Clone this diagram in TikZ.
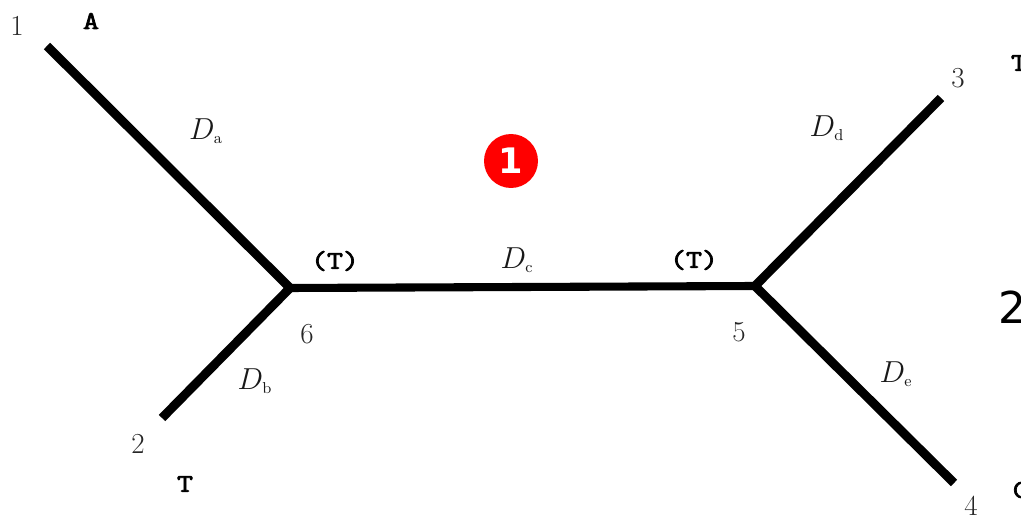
\documentclass[tikz,border=0pt]{standalone}
\usepackage{amsmath}
\usepackage{fontspec}
\usepackage{xcolor}
\usepackage{tikz}
\newfontfamily\badgefont{DejaVu Sans}
\newfontfamily\seqfont[FakeBold=3,FakeStretch=1.22]{Latin Modern Mono}
\definecolor{badgered}{RGB}{255,0,0}
\tikzset{
  branch/.style ={line width=5.1pt, black},
  stem/.style   ={line width=4.6pt, black},
  numlab/.style ={font=\fontsize{16.5}{18}\selectfont, text=black!85, inner sep=0pt},
  distlab/.style={font=\fontsize{18}{20}\selectfont, text=black!90, inner sep=0pt},
  seqlab/.style ={font=\fontsize{14.5}{16}\selectfont\seqfont, inner sep=0pt},
  badge/.style  ={circle, fill=badgered, text=white, minimum size=1.08cm, inner sep=0pt,
                  font=\fontsize{20}{22}\selectfont\badgefont\bfseries},
  figlab/.style ={font=\fontsize{25}{27}\selectfont\badgefont, inner sep=0pt},
}
\begin{document}
\begin{tikzpicture}[x=0.02cm,y=-0.02cm]
  \useasboundingbox (0,0) rectangle (1021,516);
  % tree
  \coordinate (j6) at (290,288);
  \coordinate (j5) at (755,286);
  \coordinate (t1) at (47,46);
  \coordinate (t2) at (162,418);
  \coordinate (t3) at (941,98);
  \coordinate (t4) at (954,483);
  \draw[branch](t1)--(j6);
  \draw[branch](t2)--(j6);
  \draw[stem](j6)--(j5);
  \draw[branch](j5)--(t3);
  \draw[branch](j5)--(t4);
  % numbers
  \node[numlab] (n1) at (17,26) {1};
  \node[numlab] (n2) at (138,444) {2};
  \node[numlab] (n3) at (958,78) {3};
  \node[numlab] (n4) at (971,506) {4};
  \node[numlab] (n5) at (739,332) {5};
  \node[numlab] (n6) at (307,334) {6};
  % distances
  \node[distlab] (da) at (206,131) {$D_{\scriptscriptstyle\mathrm{a}}$};
  \node[distlab] (db) at (255,381) {$D_{\scriptscriptstyle\mathrm{b}}$};
  \node[distlab] (dc) at (517,260) {$D_{\scriptscriptstyle\mathrm{c}}$};
  \node[distlab] (dd) at (827,128) {$D_{\scriptscriptstyle\mathrm{d}}$};
  \node[distlab] (de) at (896,374) {$D_{\scriptscriptstyle\mathrm{e}}$};
  % bases
  \node[seqlab] (ba) at (91,21) {A};
  \node[seqlab] (bb) at (185,484) {T};
  \node[seqlab] (bc) at (1019,63) {T};
  \node[seqlab] (bd) at (1021,490) {C};
  \node[seqlab] (be) at (335,261) {(T)};
  \node[seqlab] (bf) at (694,260) {(T)};
  % markers
  \node[badge] (mark1) at (511,161) {1};
  \node[figlab] (mark2) at (1012,307) {2};
\end{tikzpicture}
\end{document}
